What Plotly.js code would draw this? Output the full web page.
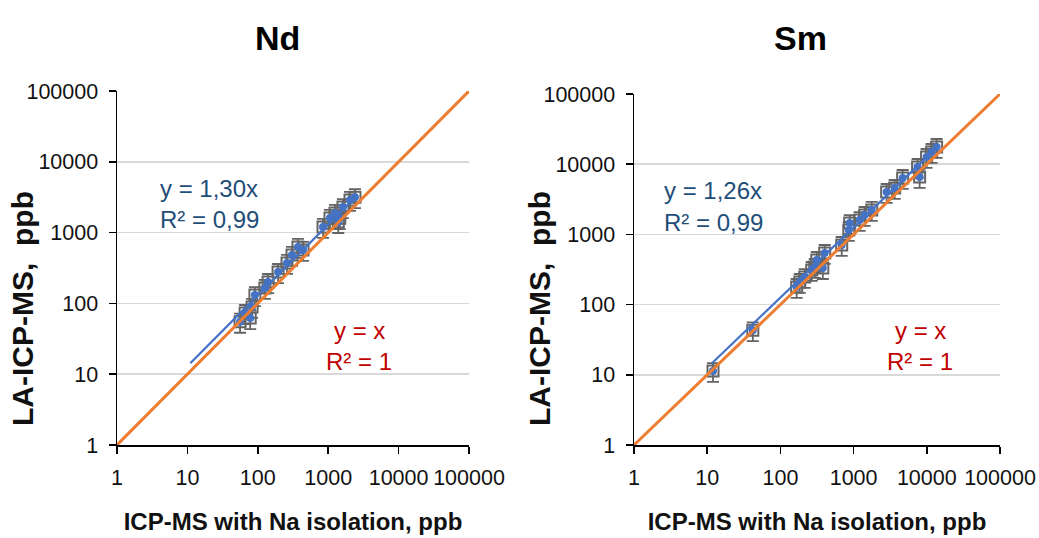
<!DOCTYPE html>
<html>
<head>
<meta charset="utf-8">
<script src="https://cdn.plot.ly/plotly-3.0.1.min.js"></script>
<style>
html,body{margin:0;padding:0;background:#fff;}
#chart{width:1039px;height:538px;}
</style>
</head>
<body>
<div id="chart"></div>
<script>
// ---- Data ----
var panelTitles = ["Nd", "Sm"];
var tickVals = [1, 10, 100, 1000, 10000, 100000];
var tickText = ["1", "10", "100", "1000", "10000", "100000"];
var xTitle = "ICP-MS with Na isolation, ppb";
var yTitle = "LA-ICP-MS,  ppb";

// Nd: ICP-MS with Na isolation (x) vs LA-ICP-MS (y), ppb
var ndX = [56, 66, 78, 83, 91, 126, 140, 194, 260, 306, 372, 439, 844, 1060, 1250, 1390, 1460, 1620, 2040, 2400];
var ndY = [55, 73, 62, 89, 131, 165, 200, 277, 372, 483, 626, 568, 1200, 1610, 1890, 1410, 1600, 2290, 2890, 3170];
var ndFitX = [11, 2400];
var ndFitY = [14.3, 3120];

// Sm
var smX = [12, 42, 167, 184, 215, 268, 295, 314, 380, 403, 688, 860, 885, 1210, 1415, 1770, 2830, 3640, 4680, 7490, 7980, 9930, 11640, 13620];
var smY = [11.3, 43, 178, 210, 247, 311, 343, 432, 331, 543, 706, 1155, 1450, 1600, 1890, 2230, 4020, 4580, 6360, 9120, 6580, 12670, 14920, 17570];
var smFitX = [11.6, 14000];
var smFitY = [14.6, 17640];

// identity line y = x
var idX = [1, 100000];
var idY = [1, 100000];

var fitLabels = [["y = 1,30x", "R² = 0,99"], ["y = 1,26x", "R² = 0,99"]];
var idLabels = ["y = x", "R² = 1"];

// ---- Styling ----
var SANS = "'Liberation Sans', Arial, sans-serif";
var GRAY = "#646464", BLUE = "#4472C4", ORANGE = "#ED7D31";
var TXTBLUE = "#1F4E79", TXTRED = "#C00000";

function panelTraces(x, y, fx, fy, xa, ya) {
  return [
    {x: x, y: y, xaxis: xa, yaxis: ya, type: "scatter", mode: "markers",
     marker: {symbol: "square-open", size: 11, color: GRAY, line: {width: 2, color: GRAY}},
     error_y: {type: "percent", value: 30, color: GRAY, thickness: 1.8, width: 6},
     showlegend: false},
    {x: x, y: y, xaxis: xa, yaxis: ya, type: "scatter", mode: "markers",
     marker: {symbol: "circle", size: 8, color: BLUE}, showlegend: false},
    {x: fx, y: fy, xaxis: xa, yaxis: ya, type: "scatter", mode: "lines",
     line: {color: BLUE, width: 2.2}, showlegend: false},
    {x: idX, y: idY, xaxis: xa, yaxis: ya, type: "scatter", mode: "lines",
     line: {color: ORANGE, width: 3}, showlegend: false}
  ];
}

var data = [].concat(
  panelTraces(ndX, ndY, ndFitX, ndFitY, "x", "y"),
  panelTraces(smX, smY, smFitX, smFitY, "x2", "y2")
);

function xAxis(domain, anchor) {
  return {
    domain: domain, anchor: anchor, type: "log", range: [0, 5],
    tickvals: tickVals, ticktext: tickText, ticks: "outside", ticklen: 7, tickwidth: 1.5,
    tickcolor: "#000", showline: true, linecolor: "#000", linewidth: 1.5, showgrid: false,
    zeroline: false, tickangle: 0, ticklabeloverflow: "allow",
    tickfont: {family: SANS, size: 21.5, color: "#111"}, ticklabelstandoff: 6,
    title: {text: "<b>" + xTitle + "</b>", font: {family: SANS, size: 24, color: "#111"}, standoff: 24}
  };
}
function yAxis(domain, anchor) {
  return {
    domain: domain, anchor: anchor, type: "log", range: [0, 5],
    tickvals: tickVals, ticktext: tickText, ticks: "outside", ticklen: 7, tickwidth: 1.5,
    tickcolor: "#000", showline: true, linecolor: "#000", linewidth: 1.5,
    showgrid: true, gridcolor: "#d9d9d9", gridwidth: 1.5, zeroline: false,
    ticklabeloverflow: "allow",
    tickfont: {family: SANS, size: 21.5, color: "#111"}, ticklabelstandoff: 6
  };
}

var W = 1039, H = 538;
var annotations = [];
function addText(text, px, py, font, anchor, angle) {
  annotations.push({text: text, x: px / W, y: 1 - py / H, xref: "paper", yref: "paper",
    showarrow: false, xanchor: anchor || "center", yanchor: "middle", textangle: angle || 0, font: font});
}
addText("<b>" + panelTitles[0] + "</b>", 277, 38, {family: SANS, size: 34, color: "#000"});
addText("<b>" + panelTitles[1] + "</b>", 800, 38, {family: SANS, size: 34, color: "#000"});
addText("<b>" + yTitle + "</b>", 22, 309, {family: SANS, size: 30, color: "#111"}, "center", -90);
addText("<b>" + yTitle + "</b>", 539, 309, {family: SANS, size: 30, color: "#111"}, "center", -90);

var lblFont = function (c, s) { return {family: SANS, size: s, color: c}; };
addText(fitLabels[0][0], 158, 188, lblFont(TXTBLUE, 24), "left");
addText(fitLabels[0][1], 158, 219, lblFont(TXTBLUE, 24), "left");
addText(fitLabels[1][0], 662, 190, lblFont(TXTBLUE, 24), "left");
addText(fitLabels[1][1], 662, 222, lblFont(TXTBLUE, 24), "left");
addText(idLabels[0], 359, 330, lblFont(TXTRED, 24));
addText(idLabels[1], 359, 362, lblFont(TXTRED, 24));
addText(idLabels[0], 920, 330, lblFont(TXTRED, 24));
addText(idLabels[1], 920, 362, lblFont(TXTRED, 24));

var layout = {
  width: W, height: H,
  margin: {l: 0, r: 0, t: 0, b: 0},
  paper_bgcolor: "#fff", plot_bgcolor: "#fff",
  showlegend: false,
  xaxis: xAxis([117 / W, 469 / W], "y"),
  yaxis: yAxis([1 - 445 / H, 1 - 91 / H], "x"),
  xaxis2: xAxis([634 / W, 1000 / W], "y2"),
  yaxis2: yAxis([1 - 445 / H, 1 - 94 / H], "x2"),
  annotations: annotations
};

Plotly.newPlot("chart", data, layout, {displayModeBar: false, staticPlot: true});
</script>
</body>
</html>
